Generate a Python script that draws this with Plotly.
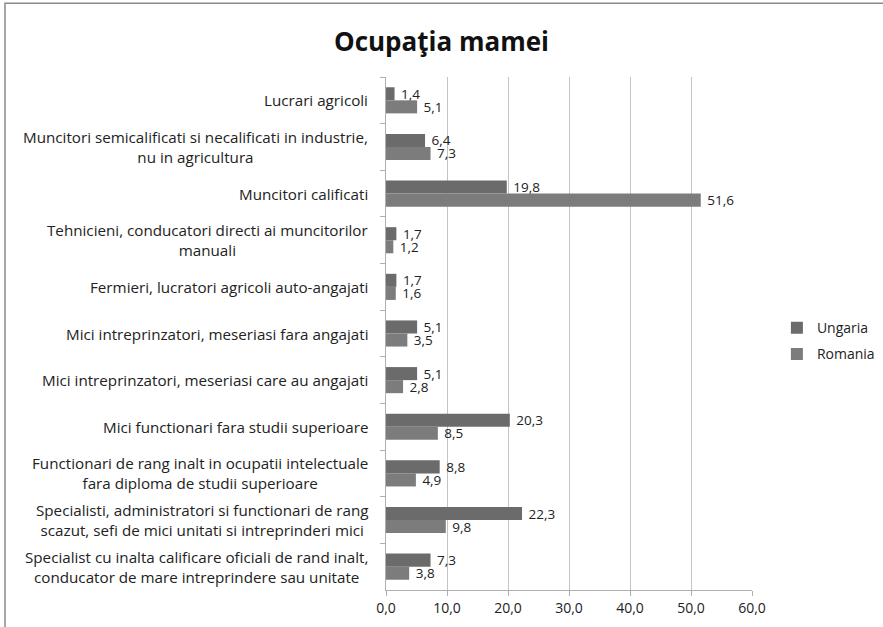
import plotly.graph_objects as go

categories = [
    "Lucrari agricoli",
    "Muncitori semicalificati si necalificati in industrie,<br>nu in agricultura",
    "Muncitori calificati",
    "Tehnicieni, conducatori directi ai muncitorilor<br>manuali",
    "Fermieri, lucratori agricoli auto-angajati",
    "Mici intreprinzatori, meseriasi fara angajati",
    "Mici intreprinzatori, meseriasi care au angajati",
    "Mici functionari fara studii superioare",
    "Functionari de rang inalt in ocupatii intelectuale<br>fara diploma de studii superioare",
    "Specialisti, administratori si functionari de rang<br>scazut, sefi de mici unitati si intreprinderi mici",
    "Specialist cu inalta calificare oficiali de rand inalt,<br>conducator de mare intreprindere sau unitate",
]
ungaria = [1.4, 6.4, 19.8, 1.7, 1.7, 5.1, 5.1, 20.3, 8.8, 22.3, 7.3]
romania = [5.1, 7.3, 51.6, 1.2, 1.6, 3.5, 2.8, 8.5, 4.9, 9.8, 3.8]
x_ticks = [0, 10, 20, 30, 40, 50, 60]

FONT = "Open Sans"
TXT = "#222222"

fig = go.Figure()
fig.add_trace(go.Bar(
    y=categories, x=ungaria, name="Ungaria", orientation="h",
    legendgroup="u",
    marker=dict(color="#6b6b6b", line=dict(width=0)),
    texttemplate="\u00a0%{x:.1f}", textposition="outside", cliponaxis=False,
    constraintext="none",
    textfont=dict(family=FONT, size=13.5, color=TXT),
))
fig.add_trace(go.Bar(
    y=categories, x=romania, name="Romania", orientation="h",
    legendgroup="r",
    marker=dict(color="#7c7c7c", line=dict(width=0)),
    texttemplate="\u00a0%{x:.1f}", textposition="outside", cliponaxis=False,
    constraintext="none",
    textfont=dict(family=FONT, size=13.5, color=TXT),
))

annotations = []
for c in categories:
    annotations.append(dict(
        x=-0.045, xref="paper", y=c, yref="y", text=c, showarrow=False,
        xanchor="right", yanchor="middle", align="center",
        font=dict(family=FONT, size=15.2, color=TXT),
    ))

fig.update_layout(
    width=883, height=627,
    margin=dict(l=386, r=131, t=77, b=37, autoexpand=False),
    paper_bgcolor="white", plot_bgcolor="white",
    separators=",.",
    barmode="group", bargap=0.44, bargroupgap=0,
    title=dict(text="<b>Ocupaţia mamei</b>", x=0.5, xanchor="center",
               y=0.933, yanchor="middle",
               font=dict(family=FONT, size=26, color="#111111")),
    legend=dict(x=1.068, y=0.485, xanchor="left", yanchor="middle",
                traceorder="grouped", font=dict(family=FONT, size=14, color=TXT),
                itemwidth=30, tracegroupgap=5),
    showlegend=True,
    annotations=annotations,
    shapes=[dict(type="rect", xref="paper", yref="paper",
                 x0=-1.041, x1=1.40, y0=-0.2, y1=1.144,
                 line=dict(color="#8a8a8a", width=1.5), layer="below")],
)
fig.update_xaxes(
    range=[0, 60], tickvals=x_ticks, tickformat=".1f",
    showgrid=True, gridcolor="#c4c4c4", gridwidth=1.2,
    showline=True, linecolor="#b0b0b0", linewidth=1,
    ticks="outside", ticklen=5, tickcolor="#b0b0b0",
    tickfont=dict(family=FONT, size=14, color=TXT),
    zeroline=False,
)
fig.update_yaxes(
    autorange="reversed", showticklabels=False,
    showline=True, linecolor="#b0b0b0", linewidth=1,
    ticks="outside", ticklen=5, tickcolor="#b0b0b0", tickson="boundaries",
    showgrid=False,
)

fig.write_html("out.html", config={"displayModeBar": False},
               post_script="document.body.style.margin='0';document.body.style.overflow='hidden';")
